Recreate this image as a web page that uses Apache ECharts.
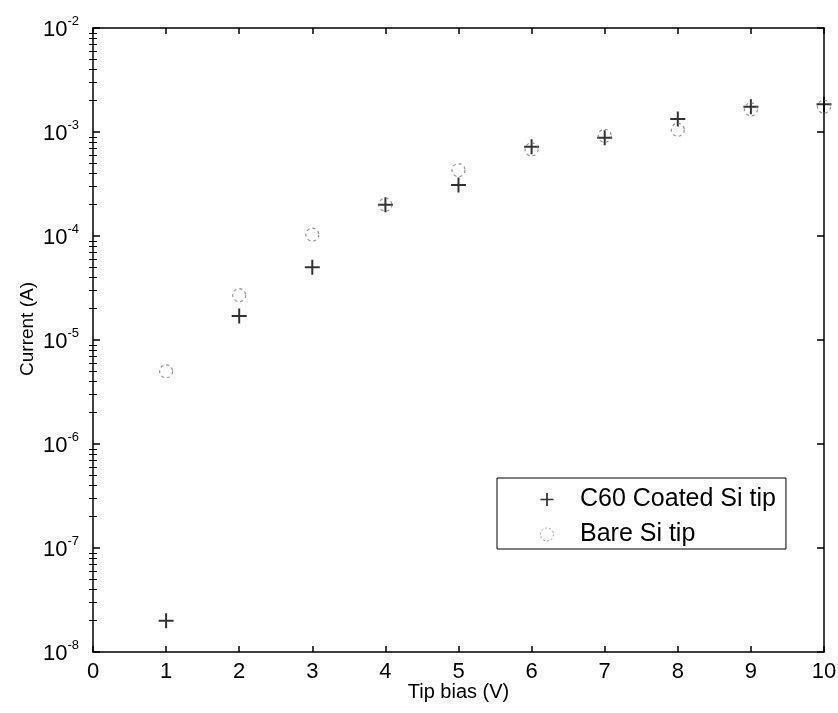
<!DOCTYPE html>
<html>
<head>
<meta charset="utf-8">
<script src="https://cdn.jsdelivr.net/npm/echarts@6/dist/echarts.min.js"></script>
<style>
  html, body { margin: 0; padding: 0; background: #fff; }
  #main { width: 838px; height: 713px; }
</style>
</head>
<body>
<div id="main"></div>
<script>
// tip bias (V) and measured current (A)
const biasV = [1, 2, 3, 4, 5, 6, 7, 8, 9, 10];
const coatedCurrent = [2e-8, 1.7e-5, 5e-5, 2e-4, 3.1e-4, 7.2e-4, 8.8e-4, 1.33e-3, 1.75e-3, 1.85e-3];
const bareCurrent = [5e-6, 2.7e-5, 1.03e-4, 2.0e-4, 4.3e-4, 6.8e-4, 9.2e-4, 1.05e-3, 1.65e-3, 1.75e-3];
const seriesNames = ['C60 Coated Si tip', 'Bare Si tip'];

const xTicks = [0, 1, 2, 3, 4, 5, 6, 7, 8, 9, 10];
const yTicks = [1e-8, 1e-7, 1e-6, 1e-5, 1e-4, 1e-3, 1e-2];
const yTickExp = ['-8', '-7', '-6', '-5', '-4', '-3', '-2'];
const minorMultipliers = [2, 3, 4, 5, 6, 7, 8, 9];

const sans = "'Liberation Sans', Arial, sans-serif";
const plusPath = 'path://M6.5,0H8.5V6.5H15V8.5H8.5V15H6.5V8.5H0V6.5H6.5Z';

// log-spaced minor tick positions inside each decade
const minorTicks = [];
yTicks.slice(0, -1).forEach(t => minorMultipliers.forEach(m => minorTicks.push(m * t)));

window.onload = function () {
    let myChart = echarts.init(document.getElementById('main'));

    const axisLine = { show: true, onZero: false, lineStyle: { color: '#000', width: 1.5 } };
    const xBase = {
        type: 'value',
        min: xTicks[0],
        max: xTicks[xTicks.length - 1],
        interval: 1,
        axisLine: axisLine,
        axisTick: { show: true, inside: true, length: 6, lineStyle: { color: '#000', width: 1.5 } },
        splitLine: { show: false }
    };
    const yBase = {
        type: 'log',
        logBase: 10,
        min: yTicks[0],
        max: yTicks[yTicks.length - 1],
        splitNumber: 6,
        axisLine: axisLine,
        axisTick: { show: true, inside: true, length: 7, lineStyle: { color: '#000', width: 1.5 } },
        splitLine: { show: false }
    };
    // extra tick-only axes carrying the log-spaced minor ticks
    const yMinor = (pos) => Object.assign({}, yBase, {
        position: pos,
        axisLine: { show: false },
        axisLabel: { show: false },
        axisTick: {
            show: true, inside: true, length: 4,
            customValues: minorTicks,
            lineStyle: { color: '#000', width: 1 }
        }
    });

    let option = {
        backgroundColor: '#fff',
        animation: false,
        grid: { left: 93, right: 14, top: 28, bottom: 61, outerBoundsMode: 'none' },
        xAxis: [
            Object.assign({}, xBase, {
                position: 'bottom',
                axisLabel: { color: '#000', fontSize: 22, fontFamily: sans, margin: 9 },
                name: 'Tip bias (V)',
                nameLocation: 'middle',
                nameGap: 30,
                nameMoveOverlap: false,
                nameTextStyle: { color: '#000', fontSize: 20, fontFamily: sans }
            }),
            Object.assign({}, xBase, { position: 'top', axisLabel: { show: false } })
        ],
        yAxis: [
            Object.assign({}, yBase, {
                position: 'left',
                name: 'Current (A)',
                nameLocation: 'middle',
                nameGap: 56,
                nameMoveOverlap: false,
                nameTextStyle: { color: '#000', fontSize: 19, fontFamily: sans, padding: [0, 0, 0, 22] },
                axisLabel: {
                    margin: 14,
                    formatter: function (v) {
                        let i = yTicks.findIndex(t => Math.abs(Math.log10(t) - Math.log10(v)) < 1e-6);
                        return '{b|10}{s|' + (i < 0 ? '' : yTickExp[i]) + '}';
                    },
                    rich: {
                        b: { color: '#000', fontSize: 22, fontFamily: sans, verticalAlign: 'bottom', lineHeight: 26 },
                        s: { color: '#000', fontSize: 13, fontFamily: sans, verticalAlign: 'top', lineHeight: 26 }
                    }
                }
            }),
            Object.assign({}, yBase, { position: 'right', axisLabel: { show: false } }),
            yMinor('left'),
            yMinor('right')
        ],
        legend: {
            left: 497,
            top: 478,
            orient: 'vertical',
            padding: [9, 10, 2, 43],
            itemWidth: 56,
            itemHeight: 13,
            itemGap: 10,
            borderColor: '#000',
            borderWidth: 1,
            borderRadius: 0,
            backgroundColor: '#fff',
            textStyle: { color: '#000', fontSize: 25, fontFamily: sans },
            data: [
                { name: seriesNames[0], itemStyle: { color: '#000' } },
                {
                    name: seriesNames[1],
                    itemStyle: { color: 'rgba(0,0,0,0)', borderColor: '#888', borderWidth: 1, borderType: [2, 2] }
                }
            ]
        },
        series: [
            {
                name: seriesNames[0],
                type: 'scatter',
                clip: false,
                symbol: plusPath,
                symbolSize: 15,
                itemStyle: { color: '#000' },
                data: biasV.map((x, i) => [x, coatedCurrent[i]])
            },
            {
                name: seriesNames[1],
                type: 'scatter',
                clip: false,
                symbol: 'circle',
                symbolSize: 13,
                itemStyle: {
                    color: 'rgba(0,0,0,0)',
                    borderColor: '#777',
                    borderWidth: 1.2,
                    borderType: [3, 3]
                },
                data: biasV.map((x, i) => [x, bareCurrent[i]])
            }
        ]
    };
    myChart.setOption(option);
}
</script>
</body>
</html>
